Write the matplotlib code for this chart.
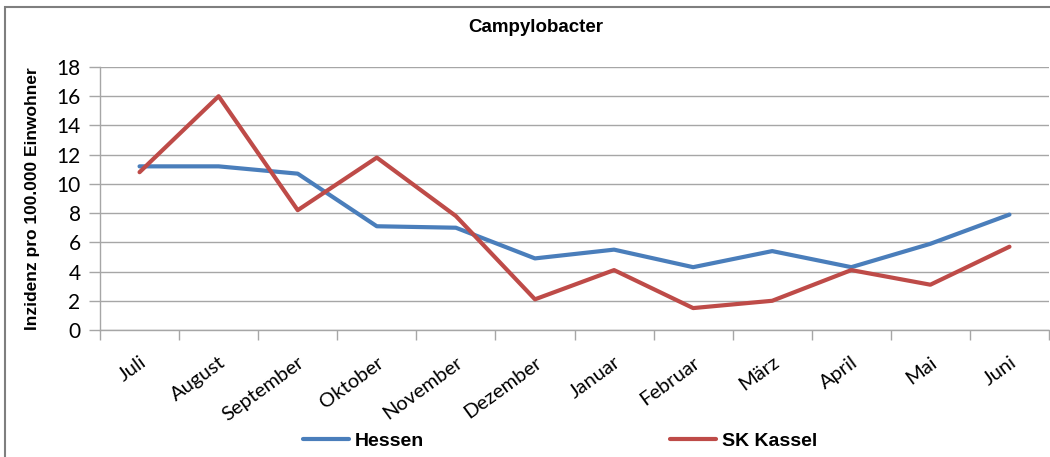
import matplotlib.pyplot as plt
from matplotlib.patches import Rectangle

months = ["Juli", "August", "September", "Oktober", "November", "Dezember",
          "Januar", "Februar", "März", "April", "Mai", "Juni"]
hessen = [11.2, 11.2, 10.7, 7.1, 7.0, 4.9, 5.5, 4.3, 5.4, 4.3, 5.9, 7.9]
kassel = [10.8, 16.0, 8.2, 11.8, 7.8, 2.1, 4.1, 1.5, 2.0, 4.1, 3.1, 5.7]
y_ticks = list(range(0, 20, 2))

blue = "#4A7EBB"
red = "#BE4B48"
grid_col = "#A6A6A6"
label_font = ["Lato", "DejaVu Sans"]

fig = plt.figure(figsize=(10.5, 4.57), dpi=100)
ax = fig.add_axes([100 / 1050, 1 - 330 / 457, 949 / 1050, 263 / 457])

x = list(range(len(months)))
ax.plot(x, hessen, color=blue, lw=3, label="Hessen", solid_capstyle="round")
ax.plot(x, kassel, color=red, lw=3, label="SK Kassel", solid_capstyle="round")

ax.set_xlim(-0.5, len(months) - 0.5)
ax.set_ylim(0, 18)
ax.set_yticks(y_ticks)
ax.yaxis.grid(True, color=grid_col, lw=1)
ax.set_axisbelow(True)

# category boundaries as major ticks, labels on minor ticks at the centres
ax.set_xticks([i - 0.5 for i in range(len(months) + 1)])
ax.set_xticklabels([])
ax.set_xticks(x, minor=True)
ax.set_xticklabels(months, minor=True, rotation=36, ha="right", va="top",
                   rotation_mode="anchor", fontsize=14.5, family=label_font)
ax.tick_params(axis="x", which="major", length=7, color=grid_col, width=1)
ax.tick_params(axis="x", which="minor", length=0, pad=17)
ax.tick_params(axis="y", length=8, color=grid_col, width=1, pad=6)
for lab in ax.get_yticklabels():
    lab.set_fontsize(15)
    lab.set_family(label_font)

for side in ["top", "right"]:
    ax.spines[side].set_visible(False)
for side in ["left", "bottom"]:
    ax.spines[side].set_color(grid_col)
    ax.spines[side].set_linewidth(1)

ax.set_ylabel("Inzidenz pro 100.000 Einwohner", fontsize=12.5, fontweight="bold",
              family="Liberation Sans", labelpad=12)
fig.text(536 / 1050, 1 - 28 / 457, "Campylobacter", ha="center", va="center",
         fontsize=13.5, fontweight="bold", family="Liberation Sans")

leg = fig.legend(loc="center", bbox_to_anchor=(560 / 1050, 1 - 441 / 457), ncol=2,
                 frameon=False, handlelength=2.4, handletextpad=0.3,
                 columnspacing=12.6,
                 prop={"family": "Liberation Sans", "weight": "bold", "size": 14})

fig.patches.append(Rectangle((4.5 / 1050, -0.1), 2, 1 - 7 / 457 + 0.1,
                             transform=fig.transFigure, fill=False,
                             edgecolor="#7F7F7F", lw=1.5))

fig.savefig("out.png", dpi=100)
